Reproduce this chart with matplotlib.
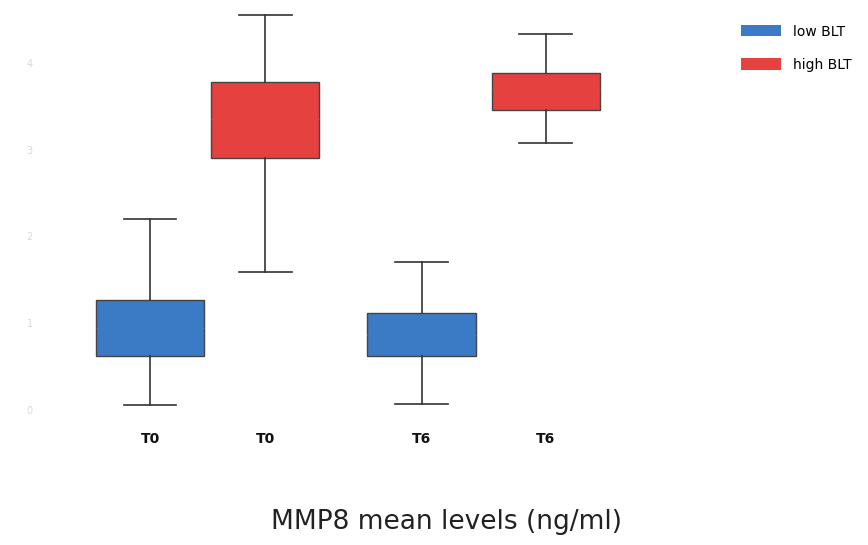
import matplotlib
matplotlib.use("Agg")
import matplotlib.pyplot as plt
from matplotlib.patches import Patch

# Data
tick_labels = ["T0", "T0", "T6", "T6"]
groups = ["low BLT", "high BLT", "low BLT", "high BLT"]
whislo = [0.06, 1.59, 0.07, 3.08]
q1 = [0.62, 2.90, 0.62, 3.46]
med = [0.95, 3.35, 0.87, 3.70]
q3 = [1.27, 3.78, 1.12, 3.88]
whishi = [2.20, 4.55, 1.71, 4.33]
y_ticks = [0, 1, 2, 3, 4]

colors = {"low BLT": "#3b7bc6", "high BLT": "#e5413f"}
positions = [1.0, 2.0, 3.36, 4.44]

fig = plt.figure(figsize=(8.68, 5.45), dpi=100)
ax = fig.add_axes([30 / 868, 1 - 425 / 545, 670 / 868, 425 / 545])

stats = []
for i in range(len(tick_labels)):
    stats.append(dict(whislo=whislo[i], q1=q1[i], med=med[i], q3=q3[i],
                      whishi=whishi[i], fliers=[], label=tick_labels[i]))

bp = ax.bxp(stats, positions=positions, widths=0.94, patch_artist=True,
            showfliers=False, capwidths=0.46,
            boxprops=dict(linewidth=1.0, edgecolor="#444444"),
            whiskerprops=dict(linewidth=1.2, color="#333333"),
            capprops=dict(linewidth=1.2, color="#333333"),
            medianprops=dict(linewidth=0.8))
for patch, med_line, g in zip(bp["boxes"], bp["medians"], groups):
    patch.set_facecolor(colors[g])
    med_line.set_color(colors[g])

ax.set_xlim(-0.043, 5.78)
ax.set_ylim(-0.173, 4.726)
ax.set_yticks(y_ticks)
ax.set_yticklabels([str(v) for v in y_ticks], color="#d8d8d8", fontsize=7)
ax.tick_params(axis="y", length=0, pad=-2)
ax.set_xticks(positions)
ax.set_xticklabels(tick_labels, fontsize=10, fontweight="bold", color="#111111")
ax.tick_params(axis="x", length=0, pad=5)
for s in ax.spines.values():
    s.set_visible(False)

fig.text(446 / 868, 1 - 522 / 545, "MMP8 mean levels (ng/ml)", ha="center",
         va="center", fontsize=19, color="#222222")

handles = [Patch(facecolor=colors["low BLT"], edgecolor="none", label="low BLT"),
           Patch(facecolor=colors["high BLT"], edgecolor="none", label="high BLT")]
fig.legend(handles=handles, loc="upper left",
           bbox_to_anchor=(728 / 868, 1 - 12 / 545), frameon=False,
           handlelength=2.9, handleheight=0.9, labelspacing=1.4,
           handletextpad=0.9, fontsize=10)

fig.savefig("out.png", dpi=100)
